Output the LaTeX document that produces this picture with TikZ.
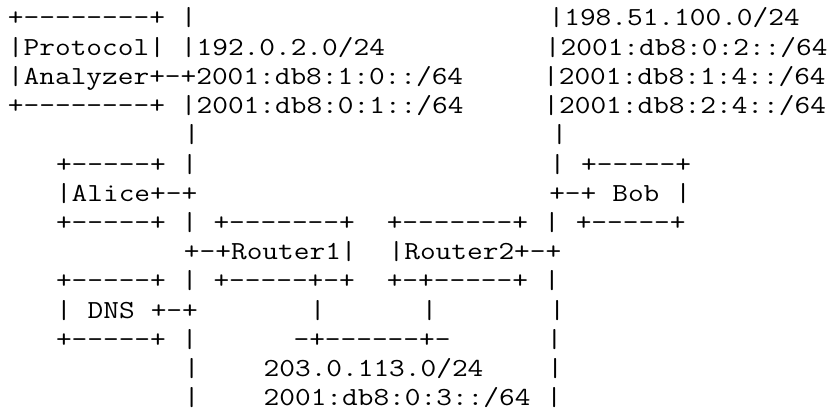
\documentclass[tikz,border=0pt]{standalone}
\usepackage{fontspec}
\setmonofont{Latin Modern Mono}[FakeStretch=1.1722]
\newlength\asciicw
\setlength\asciicw{16pt}
\newcommand\gap[1]{\hspace*{#1\asciicw}}
\begin{document}
\begin{tikzpicture}[x=1pt,y=1pt,
  asciiline/.style={anchor=base west, inner sep=0pt, outer sep=0pt,
    font=\ttfamily\fontsize{26pt}{29.2pt}\selectfont, text=black}]
\fill[white] (0,0) rectangle (840,-412);
\useasboundingbox (0,0) rectangle (840,-412);
\node[asciiline] (l1)  at (8,-26.0)  {+--------+\gap{1}|\gap{22}|198.51.100.0/24};
\node[asciiline] (l2)  at (8,-55.2)  {|Protocol|\gap{1}|192.0.2.0/24\gap{10}|2001:db8:0:2::/64};
\node[asciiline] (l3)  at (8,-84.4)  {|Analyzer+-+2001:db8:1:0::/64\gap{5}|2001:db8:1:4::/64};
\node[asciiline] (l4)  at (8,-113.6) {+--------+\gap{1}|2001:db8:0:1::/64\gap{5}|2001:db8:2:4::/64};
\node[asciiline] (l5)  at (8,-142.8) {\gap{11}|\gap{22}|};
\node[asciiline] (l6)  at (8,-172.0) {\gap{3}+-----+\gap{1}|\gap{22}|\gap{1}+-----+};
\node[asciiline] (l7)  at (8,-201.2) {\gap{3}|Alice+-+\gap{22}+-+\gap{1}Bob\gap{1}|};
\node[asciiline] (l8)  at (8,-230.4) {\gap{3}+-----+\gap{1}|\gap{1}+-------+\gap{2}+-------+\gap{1}|\gap{1}+-----+};
\node[asciiline] (l9)  at (8,-259.6) {\gap{11}+-+Router1|\gap{2}|Router2+-+};
\node[asciiline] (l10) at (8,-288.8) {\gap{3}+-----+\gap{1}|\gap{1}+-----+-+\gap{2}+-+-----+\gap{1}|};
\node[asciiline] (l11) at (8,-318.0) {\gap{3}|\gap{1}DNS\gap{1}+-+\gap{7}|\gap{6}|\gap{7}|};
\node[asciiline] (l12) at (8,-347.2) {\gap{3}+-----+\gap{1}|\gap{6}-+------+-\gap{6}|};
\node[asciiline] (l13) at (8,-376.4) {\gap{11}|\gap{4}203.0.113.0/24\gap{4}|};
\node[asciiline] (l14) at (8,-405.6) {\gap{11}|\gap{4}2001:db8:0:3::/64\gap{1}|};
\end{tikzpicture}
\end{document}
